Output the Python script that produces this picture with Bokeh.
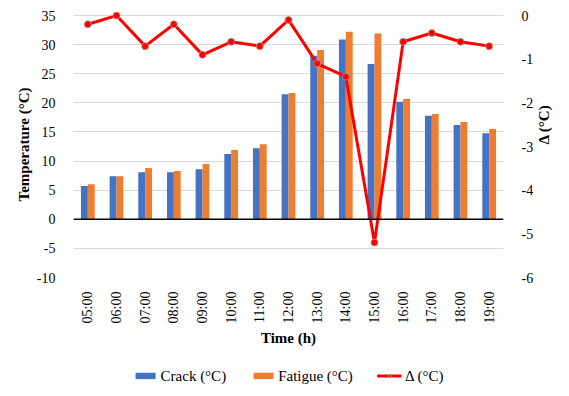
from bokeh.plotting import figure
from bokeh.models import Range1d, LinearAxis, Legend, LegendItem, Span, FixedTicker, ColumnDataSource
from bokeh.layouts import column
from bokeh.transform import dodge
from bokeh.embed import file_html
from bokeh.resources import INLINE
import math

times = ["05:00", "06:00", "07:00", "08:00", "09:00", "10:00", "11:00", "12:00",
         "13:00", "14:00", "15:00", "16:00", "17:00", "18:00", "19:00"]
crack = [5.7, 7.4, 8.1, 8.1, 8.6, 11.2, 12.2, 21.5, 28.1, 30.9, 26.7, 20.2, 17.8, 16.2, 14.8]
fatigue = [6.0, 7.4, 8.8, 8.3, 9.5, 11.9, 12.9, 21.7, 29.1, 32.2, 31.9, 20.7, 18.1, 16.7, 15.5]
delta = [-0.2, 0.0, -0.7, -0.2, -0.9, -0.6, -0.7, -0.1, -1.1, -1.4, -5.2, -0.6, -0.4, -0.6, -0.7]
left_ticks = [-10, -5, 0, 5, 10, 15, 20, 25, 30, 35]
right_ticks = [-6, -5, -4, -3, -2, -1, 0]

FONT = "Liberation Serif"
BLUE, ORANGE, RED = "#4472c4", "#ed7d31", "#ff0000"
W = 569
PAD = 0.7  # small headroom above the top tick so markers at the top are not clipped
src = ColumnDataSource(dict(t=times, crack=crack, fatigue=fatigue, delta=delta))

p = figure(x_range=times, y_range=Range1d(-10, 35 + PAD), width=W, height=355,
           output_backend="svg", toolbar_location=None,
           min_border_left=73, min_border_right=W - 503, min_border_top=11, min_border_bottom=78)
p.extra_y_ranges = {"d": Range1d(-6, PAD * 6 / 45)}
p.outline_line_color = None

b1 = p.vbar(x=dodge("t", -0.12, range=p.x_range), top="crack", width=0.24, source=src,
            fill_color=BLUE, line_color=None)
b2 = p.vbar(x=dodge("t", 0.12, range=p.x_range), top="fatigue", width=0.24, source=src,
            fill_color=ORANGE, line_color=None)
p.add_layout(Span(location=0, dimension="width", line_color="black", line_width=1.5))
p.line(x="t", y="delta", source=src, y_range_name="d", line_color=RED, line_width=3)
p.scatter(x="t", y="delta", source=src, y_range_name="d", size=7,
          fill_color=RED, line_color="#a0a0a0", line_width=0.8)

ya = p.yaxis[0]
ya.ticker = FixedTicker(ticks=left_ticks)
ya.axis_label = "Temperature (°C)"
ya.major_label_overrides = {t: str(t) for t in left_ticks}

ra = LinearAxis(y_range_name="d", ticker=FixedTicker(ticks=right_ticks), axis_label="Δ (°C)")
ra.major_label_overrides = {t: str(t) for t in right_ticks}
ra.axis_label_orientation = math.pi / 2
p.add_layout(ra, "right")

xa = p.xaxis[0]
xa.axis_label = "Time (h)"
xa.major_label_orientation = math.pi / 2

for ax in [ya, ra, xa]:
    ax.axis_line_color = None
    ax.major_tick_line_color = None
    ax.minor_tick_line_color = None
    ax.major_label_text_font = FONT
    ax.major_label_text_font_size = "14px"
    ax.major_label_text_color = "#000000"
    ax.axis_label_text_font = FONT
    ax.axis_label_text_font_size = "15px"
    ax.axis_label_text_font_style = "bold"
    ax.axis_label_text_color = "#000000"
    ax.major_label_standoff = 12
xa.major_label_standoff = 8
xa.axis_label_standoff = 4
ya.axis_label_standoff = 2
ra.axis_label_standoff = 8

p.xgrid.grid_line_color = None
p.ygrid.grid_line_color = "#d9d9d9"
p.ygrid.ticker = FixedTicker(ticks=left_ticks)

# legend strip (sample glyphs carry no visible data; only the legend shows)
lg = figure(width=W, height=41, x_range=Range1d(0, 1), y_range=Range1d(0, 1),
            output_backend="svg", toolbar_location=None,
            min_border_left=0, min_border_right=0, min_border_top=0, min_border_bottom=0)
lg.axis.visible = False
lg.grid.visible = False
lg.outline_line_color = None
nan = float("nan")
dummy = ColumnDataSource(dict(x=[nan], y=[nan]))
offscreen = ColumnDataSource(dict(x=[-5.0], y=[-5.0]))
r1 = lg.vbar(x="x", top="y", width=0.1, source=dummy, fill_color=BLUE, line_color=None)
r2 = lg.vbar(x="x", top="y", width=0.1, source=dummy, fill_color=ORANGE, line_color=None)
r3 = lg.line(x="x", y="y", source=dummy, line_color=RED, line_width=3)
r4 = lg.scatter(x="x", y="y", source=offscreen, size=7, fill_color=RED, line_color="#a0a0a0", line_width=0.8)
legend = Legend(items=[LegendItem(label="Crack (°C)", renderers=[r1]),
                       LegendItem(label="Fatigue (°C)", renderers=[r2]),
                       LegendItem(label="Δ (°C)", renderers=[r3, r4])],
                orientation="horizontal", location="center",
                border_line_color=None, background_fill_alpha=0,
                label_text_font=FONT, label_text_font_size="15px", label_text_color="#000000",
                glyph_width=25, glyph_height=8, spacing=24, label_standoff=3,
                margin=0, padding=4)
lg.add_layout(legend, "center")

open("out.html", "w").write(file_html(column(p, lg, spacing=0), INLINE))
